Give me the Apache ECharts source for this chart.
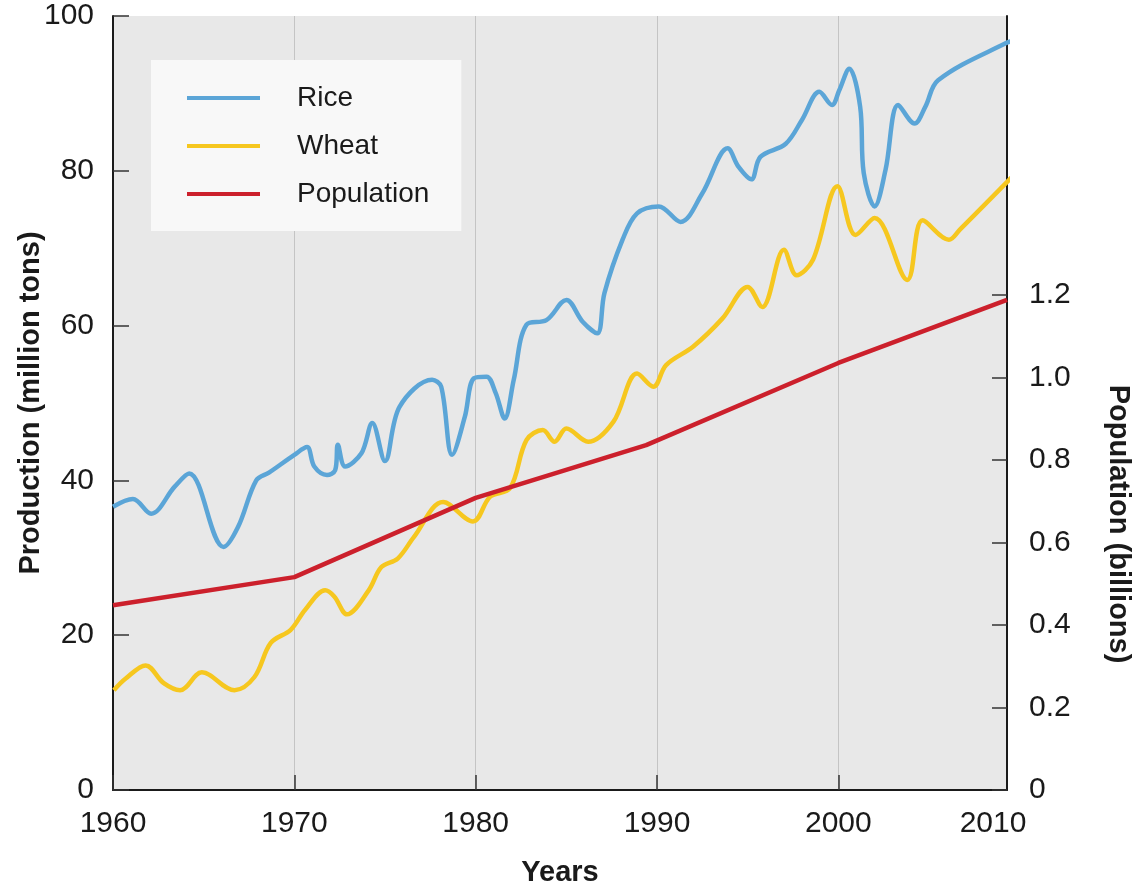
<!DOCTYPE html>
<html>
<head>
<meta charset="utf-8">
<script src="https://cdn.jsdelivr.net/npm/echarts@6/dist/echarts.min.js"></script>
<style>
html,body{margin:0;padding:0;background:#ffffff;}
#chart{width:1132px;height:889px;}
</style>
</head>
<body>
<div id="chart"></div>
<script>
// ---- Data ----
const xTickLabels = [1960, 1970, 1980, 1990, 2000, 2010];
const leftTicks = [0, 20, 40, 60, 80, 100];
const rightTicks = [0, 0.2, 0.4, 0.6, 0.8, 1.0, 1.2];

const riceYears = [1960, 1961.1, 1962.1, 1963.4, 1964.2, 1966.1, 1966.9, 1967.9, 1968.6, 1970.0, 1970.7, 1971.1, 1971.8, 1972.25, 1972.4, 1972.8, 1973.7, 1974.3, 1975.0, 1975.8, 1977.6, 1978.1, 1978.7, 1979.4, 1979.9, 1980.6, 1981.1, 1981.6, 1982.1, 1982.8, 1983.9, 1985.0, 1985.9, 1986.7, 1987.1, 1988.1, 1988.9, 1990.1, 1991.3, 1992.5, 1993.9, 1994.5, 1995.2, 1995.7, 1997.1, 1998.0, 1998.95, 1999.65, 2000.05, 2000.6, 2001.2, 2001.4, 2002.0, 2002.6, 2003.3, 2004.2, 2004.8, 2005.5, 2009.25, 2009.9];
const riceValues = [36.6, 37.6, 35.7, 39.2, 40.9, 31.4, 34.0, 40.0, 41.0, 43.3, 44.3, 41.8, 40.7, 41.3, 44.6, 41.8, 43.5, 47.4, 42.5, 49.5, 53.0, 52.1, 43.3, 48.2, 53.2, 53.4, 51.3, 48.0, 53.0, 60.1, 60.7, 63.3, 60.5, 59.0, 64.2, 71.1, 74.5, 75.4, 73.4, 77.1, 82.9, 80.5, 78.9, 81.8, 83.5, 86.6, 90.2, 88.5, 90.4, 93.2, 88.3, 79.7, 75.4, 80.1, 88.5, 86.1, 88.3, 91.7, 96.5, 96.9];

const wheatYears = [1960.05, 1960.7, 1961.8, 1962.8, 1963.7, 1964.9, 1966.7, 1967.8, 1968.7, 1969.8, 1970.6, 1971.7, 1972.2, 1972.9, 1974.1, 1974.8, 1975.7, 1976.6, 1978.2, 1979.85, 1980.8, 1981.9, 1982.8, 1983.7, 1984.35, 1985.0, 1986.2, 1987.6, 1988.9, 1989.8, 1990.5, 1992.0, 1993.6, 1995.0, 1995.8, 1997.0, 1997.7, 1998.6, 1999.95, 2000.95, 2002.0, 2003.8, 2004.65, 2006.1, 2006.7, 2009.7];
const wheatValues = [12.9, 14.4, 16.1, 13.8, 12.9, 15.2, 12.9, 14.6, 19.0, 20.7, 23.3, 25.8, 25.0, 22.7, 25.8, 28.8, 29.9, 32.7, 37.2, 34.7, 37.9, 39.0, 45.2, 46.5, 45.0, 46.7, 45.0, 47.6, 53.8, 52.1, 54.9, 57.3, 60.9, 65.0, 62.4, 69.8, 66.5, 68.5, 78.0, 71.7, 73.9, 65.9, 73.6, 71.1, 72.4, 79.5];

const popYears = [1960, 1970, 1980, 1989.4, 2000, 2009.3];
const popValues = [0.448, 0.516, 0.708, 0.836, 1.035, 1.188];

// ---- Build series data ----
const zip = (xs, ys) => xs.map((x, i) => [x, ys[i]]);
const riceData = zip(riceYears, riceValues);
const wheatData = zip(wheatYears, wheatValues);
const popData = zip(popYears, popValues);

const FONT = "'Liberation Sans', Arial, sans-serif";
const X_END = 2009.3;
const chart = echarts.init(document.getElementById('chart'));

chart.setOption({
  animation: false,
  backgroundColor: '#ffffff',
  textStyle: { fontFamily: FONT },
  grid: {
    left: 113, right: 125, top: 16, bottom: 99,
    containLabel: false, outerBoundsMode: 'none',
    show: true, backgroundColor: '#e8e8e8', borderWidth: 0
  },
  legend: {
    orient: 'vertical',
    left: 151, top: 60,
    backgroundColor: '#f8f8f8',
    padding: [23, 32, 22, 36],
    itemGap: 18,
    itemWidth: 73, itemHeight: 4,
    icon: 'rect',
    textStyle: { fontFamily: FONT, fontSize: 28, color: '#1a1a1a', lineHeight: 30, padding: [0, 0, 0, 32] },
    data: ['Rice', 'Wheat', 'Population']
  },
  xAxis: {
    type: 'value',
    min: 1960, max: X_END, interval: 10,
    name: 'Years', nameLocation: 'middle', nameGap: 68,
    nameTextStyle: { fontFamily: FONT, fontSize: 29, fontWeight: 'bold', color: '#1a1a1a' },
    axisLine: { show: true, lineStyle: { color: '#1a1a1a', width: 2 } },
    axisTick: { show: true, inside: true, length: 15, lineStyle: { color: '#333', width: 1.5 },
      customValues: [1960, 1970, 1980, 1990, 2000] },
    axisLabel: {
      fontFamily: FONT, fontSize: 30, color: '#1a1a1a', margin: 19,
      customValues: [1960, 1970, 1980, 1990, 2000, X_END],
      formatter: v => v > 2005 ? '{last|' + xTickLabels[5] + '}' : String(Math.round(v)),
      rich: { last: { fontFamily: FONT, fontSize: 30, color: '#1a1a1a', padding: [0, 28, 0, 0] } }
    },
    splitLine: { show: true, lineStyle: { color: '#c4c4c4', width: 1 } }
  },
  yAxis: [
    {
      type: 'value', position: 'left',
      min: 0, max: 100, interval: 20,
      name: 'Production (million tons)', nameLocation: 'middle', nameGap: 68,
      nameMoveOverlap: false,
      nameTextStyle: { fontFamily: FONT, fontSize: 29, fontWeight: 'bold', color: '#1a1a1a' },
      axisLine: { show: true, lineStyle: { color: '#1a1a1a', width: 2 } },
      axisTick: { show: true, inside: true, length: 16, lineStyle: { color: '#333', width: 1.5 } },
      axisLabel: { fontFamily: FONT, fontSize: 30, color: '#1a1a1a', margin: 19 },
      splitLine: { show: false }
    },
    {
      type: 'value', position: 'right',
      min: 0, max: 1.876,
      axisLine: { show: true, lineStyle: { color: '#1a1a1a', width: 2 } },
      axisTick: { show: true, inside: true, length: 15, lineStyle: { color: '#333', width: 1.5 },
        customValues: rightTicks },
      axisLabel: { fontFamily: FONT, fontSize: 30, color: '#1a1a1a', margin: 22,
        customValues: rightTicks,
        formatter: v => v === 0 ? '0' : v.toFixed(1) },
      splitLine: { show: false }
    }
  ],
  graphic: [
    {
      type: 'text',
      x: 1118, y: 524,
      rotation: -Math.PI / 2,
      style: {
        text: 'Population (billions)',
        fontFamily: FONT, fontSize: 29, fontWeight: 'bold', fill: '#1a1a1a',
        textAlign: 'center', textVerticalAlign: 'middle'
      }
    }
  ],
  series: [
    {
      name: 'Rice', type: 'line', data: riceData, yAxisIndex: 0,
      smooth: 0.35, showSymbol: false, clip: false,
      lineStyle: { color: '#5ba5d7', width: 4.5 }, itemStyle: { color: '#5ba5d7' }
    },
    {
      name: 'Wheat', type: 'line', data: wheatData, yAxisIndex: 0,
      smooth: 0.35, showSymbol: false, clip: false,
      lineStyle: { color: '#f6c71f', width: 4.5 }, itemStyle: { color: '#f6c71f' }
    },
    {
      name: 'Population', type: 'line', data: popData, yAxisIndex: 1,
      smooth: false, showSymbol: false, clip: false,
      lineStyle: { color: '#cc202c', width: 4.5 }, itemStyle: { color: '#cc202c' }
    }
  ]
});
</script>
</body>
</html>
